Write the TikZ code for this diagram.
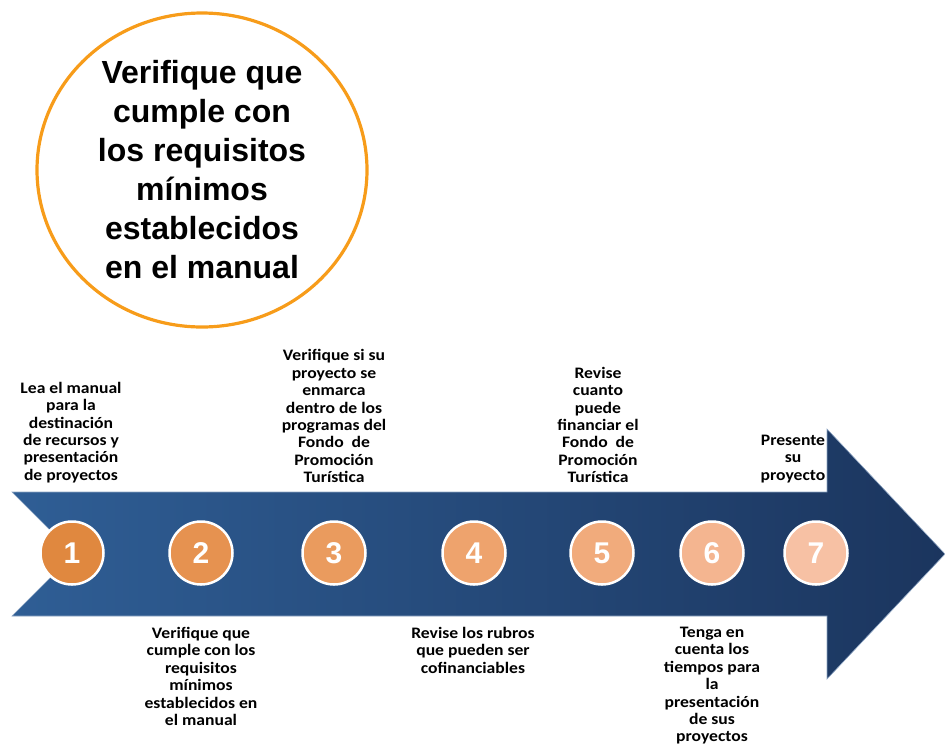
\documentclass[tikz,border=0pt]{standalone}
\usepackage{fontspec}
\setmainfont{Liberation Sans}
\newfontfamily\stepfont[FakeStretch=1.1]{Carlito}
\usetikzlibrary{positioning,shapes.geometric}

\definecolor{ringorange}{HTML}{F79C1A}
\definecolor{arrowleft}{HTML}{2F5E95}
\definecolor{arrowright}{HTML}{1B355E}
\definecolor{arrowedge}{HTML}{8FA6C4}
\definecolor{c1}{HTML}{E0883F}
\definecolor{c2}{HTML}{E69250}
\definecolor{c3}{HTML}{EA9B5E}
\definecolor{c4}{HTML}{EEA36D}
\definecolor{c5}{HTML}{F1AB7C}
\definecolor{c6}{HTML}{F4B590}
\definecolor{c7}{HTML}{F7C1A4}

\begin{document}
\begin{tikzpicture}[
x=1pt,y=-1pt,
goal/.style={ellipse,draw=ringorange,line width=3.2pt,minimum width=330pt,minimum height=314pt,
  inner sep=0pt,align=center,font=\fontsize{32}{39}\selectfont\bfseries},
num/.style={circle,draw=white,line width=2.5pt,minimum size=63pt,inner sep=0pt,
  text=white,font=\fontsize{30}{30}\selectfont\bfseries},
above text/.style={anchor=south,inner sep=0pt,align=center,font=\stepfont\fontsize{16}{17.4}\selectfont\bfseries},
below text/.style={anchor=north,inner sep=0pt,align=center,font=\stepfont\fontsize{16}{17.4}\selectfont\bfseries},
]
\useasboundingbox (0,0) rectangle (945,748);

% big circle
\node[goal] (goal) at (202,170) {Verifique que\\cumple con\\los requisitos\\mínimos\\establecidos\\en el manual};

% arrow
\shade[left color=arrowleft,right color=arrowright,draw=arrowedge,line width=0.6pt]
  (12,492) -- (827,492) -- (827,429) -- (945,554) -- (827,679) -- (827,616)
  -- (12,616) -- (74,554) -- cycle;

% numbered steps
\node[num,fill=c1] (s1) at (72,553) {1};
\node[num,fill=c2] (s2) at (201,553) {2};
\node[num,fill=c3] (s3) at (334,553) {3};
\node[num,fill=c4] (s4) at (474,553) {4};
\node[num,fill=c5] (s5) at (602,553) {5};
\node[num,fill=c6] (s6) at (712,553) {6};
\node[num,fill=c7] (s7) at (816,553) {7};

% texts above
\node[above text] (t1) at (71,483) {Lea el manual\\para la\\destinación\\de recursos y\\presentación\\de proyectos};
\node[above text] (t3) at (334,483) {Verifique si su\\proyecto se\\enmarca\\dentro de los\\programas del\\Fondo~ de\\Promoción\\Turística};
\node[above text] (t5) at (598,483) {Revise\\cuanto\\puede\\financiar el\\Fondo~ de\\Promoción\\Turística};
\node[above text] (t7) at (793,483) {Presente\\su\\proyecto};

% texts below
\node[below text] (t2) at (201,627) {Verifique que\\cumple con los\\requisitos\\mínimos\\establecidos en\\el manual};
\node[below text] (t4) at (473,627) {Revise los rubros\\que pueden ser\\cofinanciables};
\node[below text] (t6) at (712,627) {Tenga en\\cuenta los\\tiempos para\\la\\presentación\\de sus\\proyectos};
\end{tikzpicture}
\end{document}
